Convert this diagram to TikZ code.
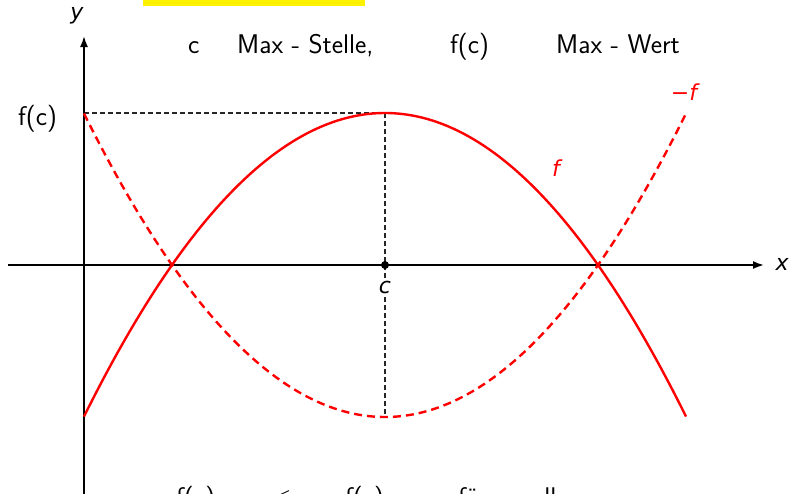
\documentclass[tikz,border=0pt]{standalone}
\usepackage{fontspec}
\newfontfamily\labfont{DejaVu Sans}
\usetikzlibrary{arrows.meta}
\begin{document}
\begin{tikzpicture}[x=1pt,y=-1pt,
  axis/.style={line width=1.8pt,-{Latex[length=11pt,width=8pt]}},
  curve/.style={red,line width=2.4pt},
  guide/.style={black!85,line width=1.2pt,dash pattern=on 5pt off 3pt},
  lab/.style={font=\labfont\itshape\fontsize{22}{24}\selectfont,inner sep=0pt},
  hand/.style={font=\sffamily\fontsize{27}{29}\selectfont,inner sep=0pt,anchor=base west}]
\useasboundingbox (0,0) rectangle (789,493);
\clip (0,0) rectangle (789,493);
\fill[yellow] (143,0) rectangle (365,6);
% coordinates
\coordinate (xs) at (8,265);
\coordinate (xe) at (764,265);
\coordinate (ys) at (84,495);
\coordinate (ye) at (84,36);
\coordinate (fc) at (84,113);
\coordinate (top) at (385,113);
\coordinate (bot) at (385,415);
\coordinate (C) at (385,265);
% guides
\draw[guide] (fc) -- (top);
\draw[guide] (top) -- (bot);
% axes
\draw[axis] (xs) -- (xe);
\draw[axis] (ys) -- (ye);
% curves
\draw[curve] plot[domain=84:686,samples=120] (\x,{113+152*((\x-385)/213)^2});
\draw[curve,dash pattern=on 8pt off 5pt] plot[domain=84:686,samples=120] (\x,{417-152*((\x-385)/213)^2});
\fill (C) circle (4pt);
% labels
\node[lab] (lx) at (782,264) {x};
\node[lab] (ly) at (77,16) {y};
\node[lab,fill=white,inner sep=1pt] (lc) at (385,287) {c};
\node[lab,red] (lf) at (556,168) {f};
\node[lab,red] (lmf) at (684,92) {−f};
% handwritten texts
\node[hand] (t1) at (188,53) {c};
\node[hand] (t2) at (237,53) {Max - Stelle,};
\node[hand] (t3) at (450,53) {f(c)};
\node[hand] (t4) at (556,53) {Max - Wert};
\node[hand] (t5) at (18,125) {f(c)};
\node[hand] (b1) at (176,506) {f(x)};
\node[hand] (b2) at (272,506) {$\leq$};
\node[hand] (b3) at (345,506) {f(c)};
\node[hand] (b4) at (458,506) {für};
\node[hand] (b5) at (532,506) {alle};
\node[hand] (b6) at (618,506) {x};
\end{tikzpicture}
\end{document}
